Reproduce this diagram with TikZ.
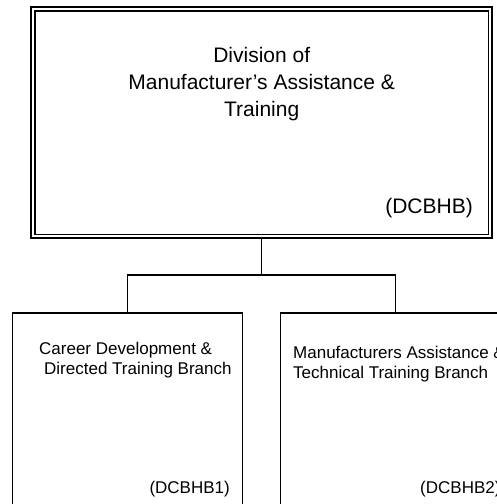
\documentclass[tikz,border=0pt]{standalone}
\usepackage{fontspec}
\setmainfont{Liberation Sans}
\tikzset{
  every picture/.style={x=1pt,y=-1pt},
  conn/.style={draw=black,line width=1.4pt},
  topbox/.style={draw=black,line width=1.4pt,double=white,double distance=2.4pt,
    rectangle,inner sep=0pt,outer sep=2.6pt,minimum width=457.2pt,minimum height=227.2pt},
  branchbox/.style={draw=black,line width=1.4pt,rectangle,inner sep=0pt,outer sep=0pt,
    minimum width=230pt,minimum height=217pt,anchor=north},
  bigtxt/.style={font=\fontsize{21}{25}\selectfont,inner sep=0pt,text=black},
  smalltxt/.style={font=\fontsize{17}{20}\selectfont,inner sep=0pt,text=black},
}
\begin{document}
\begin{tikzpicture}
\useasboundingbox (0,0) rectangle (496,504);
% boxes
\node[topbox] (top) at (261.5,122.5) {};
\node[branchbox] (left) at (127.5,313) {};
\node[branchbox] (right) at (395.3,313) {};
% connectors
\coordinate (j) at (261.5,275);
\draw[conn] (top.south) -- (j);
\draw[conn] (left.north) |- (j) -| (right.north);
% title texts
\node[bigtxt,anchor=base] (t1) at (261.7,62.5) {Division of};
\node[bigtxt,anchor=base] (t2) at (261.7,89) {Manufacturer’s Assistance \&};
\node[bigtxt,anchor=base] (t3) at (261.7,116) {Training};
\node[bigtxt,anchor=base east] (tc) at (473,213.5) {(DCBHB)};
% left branch
\node[smalltxt,anchor=base west] (l1) at (39,354.5) {Career Development \&};
\node[smalltxt,anchor=base west] (l2) at (44,374.5) {Directed Training Branch};
\node[smalltxt,anchor=base east] (lc) at (230,493.5) {(DCBHB1)};
% right branch
\node[smalltxt,anchor=base west] (r1) at (293,358.5) {Manufacturers Assistance \&};
\node[smalltxt,anchor=base west] (r2) at (293,378.5) {Technical Training Branch};
\node[smalltxt,anchor=base west] (rc) at (420,493.5) {(DCBHB2)};
\end{tikzpicture}
\end{document}
